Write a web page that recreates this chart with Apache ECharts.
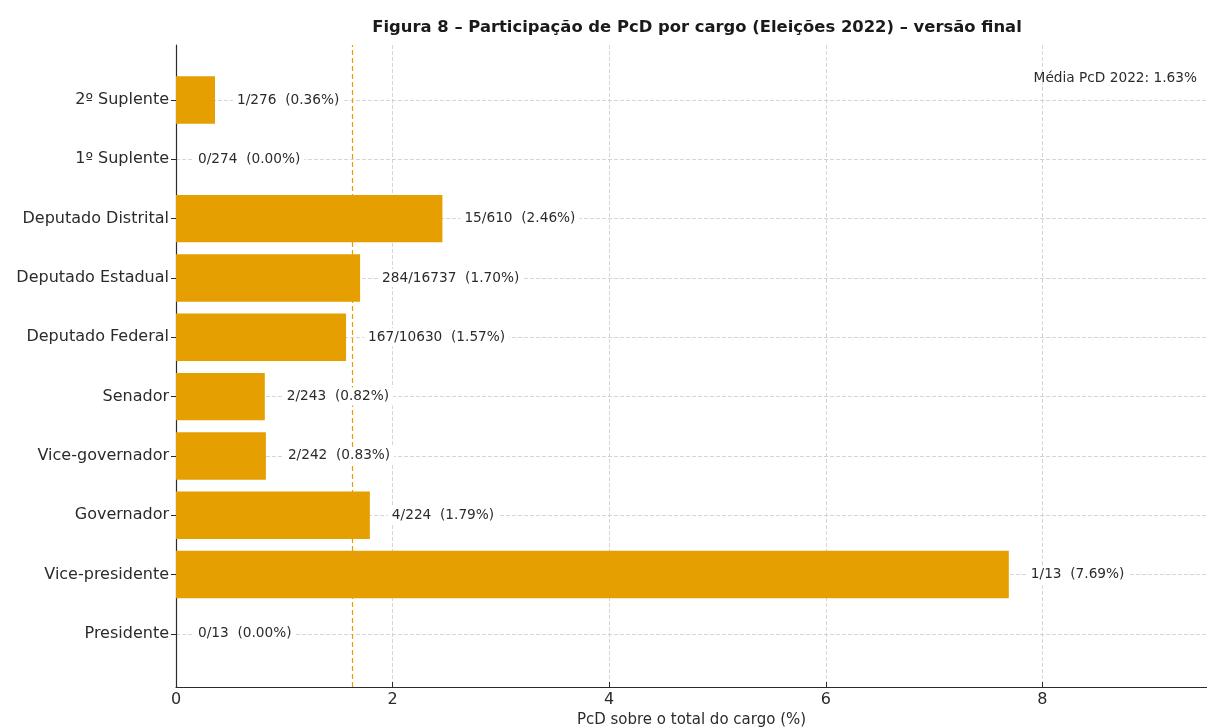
<!DOCTYPE html>
<html>
<head>
<meta charset="utf-8">
<script src="https://cdn.jsdelivr.net/npm/echarts@6/dist/echarts.min.js"></script>
<style>
  html, body { margin: 0; padding: 0; background: #ffffff; overflow: hidden; }
  #chart { width: 1207px; height: 727px; }
</style>
</head>
<body>
<div id="chart"></div>
<script>
// Cargos, listed bottom to top
const cargos = ['Presidente', 'Vice-presidente', 'Governador', 'Vice-governador', 'Senador',
  'Deputado Federal', 'Deputado Estadual', 'Deputado Distrital', '1º Suplente', '2º Suplente'];
// Candidates with disability (PcD) and total candidates per cargo
const pcd = [0, 1, 4, 2, 2, 167, 284, 15, 0, 1];
const totais = [13, 13, 224, 242, 243, 10630, 16737, 610, 274, 276];
// Share of PcD per cargo (%)
const percentuais = [0.00, 7.69, 1.79, 0.83, 0.82, 1.57, 1.70, 2.46, 0.00, 0.36];
// Overall PcD mean for 2022 (%)
const mediaPcD = 1.63;
const xTicks = [0, 2, 4, 6, 8];

const FONT = '"DejaVu Sans", sans-serif';
const TEXT = '#2b2b2b';
const BAR = '#E69F00';
const GRID_LINE = '#cccccc';
const X_MAX = 9.52;

const chart = echarts.init(document.getElementById('chart'), null, { renderer: 'canvas' });

chart.setOption({
  backgroundColor: '#ffffff',
  animation: false,
  textStyle: { fontFamily: FONT, color: TEXT },
  title: [
    {
      text: 'Figura 8 – Participação de PcD por cargo (Eleições 2022) – versão final',
      left: 692, top: 15, textAlign: 'center',
      textStyle: { fontFamily: FONT, fontWeight: 'bold', fontSize: 16.4, color: '#1a1a1a' }
    },
    {
      text: 'Média PcD 2022: ' + mediaPcD.toFixed(2) + '%',
      right: 5, top: 66,
      textStyle: { fontFamily: FONT, fontWeight: 'normal', fontSize: 13.7, color: TEXT }
    }
  ],
  grid: [
    // frame: axis lines, x ticks and vertical grid
    { left: 176, right: 0, top: 45, bottom: 40, outerBoundsMode: 'none', containLabel: false },
    // bars
    { left: 176, right: 0, top: 70.3, bottom: 63.4, outerBoundsMode: 'none', containLabel: false },
    // horizontal grid through category centres
    { left: 176, right: 0, top: 100, bottom: 93, outerBoundsMode: 'none', containLabel: false }
  ],
  xAxis: [
    {
      gridIndex: 0, type: 'value', min: 0, max: X_MAX, interval: 2,
      axisLine: { show: true, lineStyle: { color: '#2b2b2b', width: 1.2 } },
      axisTick: { show: true, inside: true, length: 5, lineStyle: { color: '#2b2b2b' } },
      axisLabel: {
        fontFamily: FONT, fontSize: 16, color: TEXT, margin: 5, showMaxLabel: false,
        formatter: v => (xTicks.indexOf(v) >= 0 ? String(v) : '')
      },
      splitLine: { show: true, lineStyle: { color: GRID_LINE, type: [4, 2], width: 0.8 } },
      name: 'PcD sobre o total do cargo (%)',
      nameLocation: 'middle', nameGap: 23,
      nameTextStyle: { fontFamily: FONT, fontSize: 15, color: TEXT }
    },
    { gridIndex: 1, type: 'value', min: 0, max: X_MAX, show: false },
    { gridIndex: 2, type: 'value', min: 0, max: X_MAX, show: false }
  ],
  yAxis: [
    {
      gridIndex: 0, type: 'value', min: 0, max: 1,
      axisLine: { show: true, lineStyle: { color: '#2b2b2b', width: 1.2 } },
      axisTick: { show: false }, axisLabel: { show: false }, splitLine: { show: false }
    },
    {
      gridIndex: 1, type: 'category', data: cargos,
      axisLine: { show: false },
      axisTick: { show: true, alignWithLabel: true, length: 5, lineStyle: { color: '#2b2b2b' } },
      axisLabel: { fontFamily: FONT, fontSize: 16, color: TEXT, margin: 7 },
      splitLine: { show: false }
    },
    {
      gridIndex: 2, type: 'category', data: cargos, boundaryGap: false,
      axisLine: { show: false }, axisTick: { show: false }, axisLabel: { show: false },
      splitLine: { show: true, lineStyle: { color: GRID_LINE, type: [4, 2], width: 0.8 } }
    }
  ],
  series: [
    {
      // mean reference line
      type: 'line', xAxisIndex: 0, yAxisIndex: 0, data: [], z: 1,
      markLine: {
        z: 1, silent: true, symbol: ['none', 'none'],
        label: { show: false },
        lineStyle: { color: BAR, type: [5, 3], width: 1.2 },
        data: [{ xAxis: mediaPcD }]
      }
    },
    {
      type: 'bar', xAxisIndex: 1, yAxisIndex: 1, z: 3,
      data: percentuais, barWidth: '80%',
      itemStyle: { color: BAR },
      label: {
        show: true, position: 'right', distance: 18,
        fontFamily: FONT, fontSize: 13.7, color: TEXT,
        backgroundColor: '#ffffff', padding: [2, 4],
        formatter: p => pcd[p.dataIndex] + '/' + totais[p.dataIndex] + '  (' + percentuais[p.dataIndex].toFixed(2) + '%)'
      }
    }
  ]
});
</script>
</body>
</html>
